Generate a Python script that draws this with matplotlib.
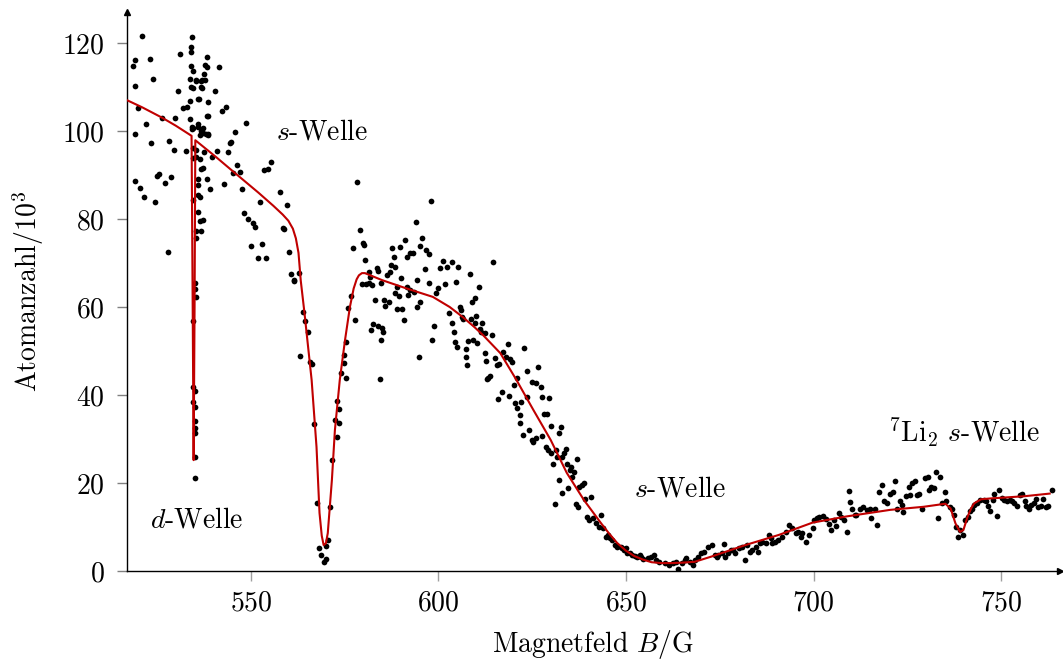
import matplotlib
matplotlib.use("Agg")
import matplotlib.pyplot as plt

# --- fonts: Computer Modern look (bundled with matplotlib) ---
plt.rcParams["font.family"] = "serif"
plt.rcParams["font.serif"] = ["cmr10"]
plt.rcParams["mathtext.fontset"] = "cm"
plt.rcParams["axes.unicode_minus"] = False
plt.rcParams["axes.formatter.use_mathtext"] = True

# --- measured data: magnetic field (G) and atom number (10^3) ---
field_d_region = [518.6, 519.2, 521.0, 523.0, 519.2, 524.0, 520.0, 522.1, 519.2, 523.5,
                  526.4, 528.3, 529.4, 529.9, 532.6, 519.2, 520.5, 521.6, 524.5, 525.0,
                  525.5, 527.2, 528.8, 527.8, 531.2, 531.8, 533.1, 530.7,
                  534.2, 534.0, 534.0, 534.0, 534.5, 533.7, 534.0, 533.7, 533.7, 534.2, 534.2,
                  535.5, 536.6, 537.7, 536.6, 536.0, 538.2, 537.9, 538.2, 537.4, 536.0,
                  536.6, 537.2, 535.8, 538.0, 538.5, 538.5, 538.5, 540.4, 541.5, 542.3,
                  543.3, 545.8, 548.7, 544.4, 543.9, 540.9, 539.6, 537.4, 536.4, 537.2,
                  536.6, 538.2, 539.0, 536.0, 536.0, 535.8, 536.4, 534.7, 535.8, 536.4,
                  537.2, 535.5, 536.6, 535.5, 542.8, 546.3, 547.1, 545.2, 547.6, 548.2,
                  549.3, 550.6, 551.1, 552.5, 550.0, 553.0, 552.0, 554.1, 553.6, 554.6,
                  555.4, 557.9, 559.7, 558.7, 558.9, 560.3, 560.8, 561.6, 562.7,
                  534.7, 534.7, 535.0, 534.7, 535.0, 535.0, 535.0, 535.0, 535.0, 535.0,
                  535.0, 535.0, 535.3, 535.5, 536.9, 536.9, 534.5, 534.5, 538.2, 536.1,
                  534.5, 535.5, 535.3, 534.7, 544.7, 537.2, 536.4, 538.5]
atoms_d_region = [114.7, 116.1, 121.6, 116.3, 110.3, 111.8, 105.2, 101.6, 99.3, 97.2,
                  103.0, 97.8, 95.7, 103.0, 95.5, 88.6, 87.0, 84.9, 83.9, 89.8,
                  90.2, 88.2, 89.6, 72.5, 117.5, 105.2, 105.5, 109.0,
                  121.4, 119.0, 118.0, 114.7, 113.6, 111.8, 110.0, 106.8, 102.7, 100.9, 100.5,
                  111.6, 111.4, 111.6, 110.0, 107.3, 116.8, 115.0, 114.5, 113.0, 100.9,
                  100.0, 100.7, 101.6, 99.3, 99.3, 103.4, 106.6, 109.0, 114.5, 104.5,
                  105.5, 99.8, 101.8, 97.3, 95.2, 95.5, 94.0, 95.2, 93.6, 91.6,
                  91.4, 89.0, 86.8, 89.0, 87.7, 85.5, 85.0, 84.3, 81.6, 79.5,
                  79.8, 77.3, 77.3, 75.7, 88.0, 92.3, 90.7, 90.5, 86.8, 81.4,
                  80.0, 79.1, 78.2, 83.9, 73.9, 74.3, 71.1, 71.1, 91.1, 91.4,
                  93.0, 86.1, 83.2, 77.9, 77.7, 72.5, 67.5, 66.1, 67.7,
                  56.8, 41.8, 40.9, 38.4, 37.3, 34.0, 32.5, 31.4, 25.9, 21.1,
                  65.5, 64.1, 62.3, 111.4, 111.6, 109.7, 109.8, 100.6, 103.3, 107.3,
                  96.1, 95.7, 94.2, 93.8, 97.4, 99.6, 99.1, 99.1]

field_s_region = [561.4, 563.8, 564.3, 565.1, 563.2, 565.7, 566.2, 566.7, 567.5, 568.1,
                  568.6, 569.4, 570.0, 570.0, 570.5, 571.0, 571.6, 572.4, 572.9, 573.5,
                  573.5, 572.9, 574.0, 574.8, 574.8, 575.3, 575.3, 575.9, 576.7, 577.8,
                  579.6, 580.7, 581.5, 582.0,
                  578.3, 579.1, 577.2, 579.9, 580.2, 580.5, 581.5, 583.7, 584.0, 581.8,
                  582.3, 584.7, 586.4, 587.2, 587.4, 588.5, 587.7, 589.8, 591.2, 588.2,
                  591.7, 592.5, 593.3, 593.9, 595.5, 595.0, 596.8, 597.6, 597.9, 596.3,
                  594.4, 597.6, 590.1, 589.0, 591.5, 588.5, 592.3, 593.6, 583.1, 585.5,
                  585.8, 586.9, 589.6, 589.0, 590.4, 592.0, 594.2, 595.2, 590.7, 582.6,
                  584.0, 585.0, 585.3, 584.7, 584.5, 594.7, 598.7, 598.2, 599.3, 599.8,
                  600.3, 602.2, 603.6, 601.1, 605.2, 601.7, 602.8, 604.6, 608.4, 603.6,
                  604.1, 604.4, 604.9, 605.7, 606.0, 606.2, 606.5, 607.3, 607.3, 607.6,
                  607.9, 609.2, 610.3, 608.7, 609.7, 610.0, 609.0, 609.7, 610.8, 614.5]
atoms_s_region = [65.9, 58.9, 56.8, 54.3, 48.9, 47.5, 47.0, 33.4, 15.5, 5.2,
                  3.6, 2.0, 2.7, 5.7, 7.0, 14.5, 25.2, 34.3, 30.5, 33.6,
                  36.8, 38.6, 45.0, 47.3, 49.1, 52.0, 43.9, 59.8, 62.5, 57.0,
                  65.2, 65.2, 65.5, 54.8,
                  88.4, 77.5, 73.4, 74.5, 74.1, 70.7, 68.0, 68.9, 68.2, 66.8,
                  65.0, 65.5, 67.3, 68.0, 69.5, 69.1, 73.4, 73.6, 75.2, 71.4,
                  71.4, 72.3, 72.3, 79.3, 75.7, 73.9, 73.0, 72.0, 84.1, 68.6,
                  66.1, 65.5, 66.6, 64.5, 64.5, 63.2, 63.9, 63.4, 61.6, 61.6,
                  60.2, 61.1, 62.5, 59.5, 59.5, 62.7, 60.0, 61.1, 57.0, 56.1,
                  55.7, 55.2, 54.3, 52.5, 43.6, 48.6, 55.7, 52.5, 63.2, 64.3,
                  68.9, 69.1, 70.2, 70.5, 69.1, 65.2, 58.6, 65.7, 67.5, 56.4,
                  54.3, 52.0, 50.9, 60.0, 59.3, 57.7, 57.3, 50.5, 48.6, 46.8,
                  52.3, 52.5, 51.8, 57.3, 56.4, 58.0, 61.1, 62.0, 64.5, 70.2]

field_decay = [611.1, 611.4, 611.6, 612.4, 612.4, 612.7, 613.2, 613.8, 613.0, 614.3,
               615.1, 615.7, 616.2, 616.0, 616.9, 618.9, 617.3, 618.1, 618.6, 619.2,
               619.7, 620.2, 620.5, 620.8, 621.0, 621.8, 621.6, 622.1, 622.9, 623.5,
               623.5, 622.4, 624.0, 624.8, 625.3, 625.9, 625.0, 625.9, 626.4, 627.2,
               627.5, 628.0, 628.8, 627.5, 628.6, 629.1, 629.9, 631.2, 631.5, 629.4,
               629.9, 632.0, 632.6, 630.4, 632.0, 632.8, 633.4, 633.9, 631.0, 632.8,
               634.2, 634.5, 635.0, 635.3, 635.5, 636.1, 636.6, 637.2, 636.9, 637.4,
               638.2, 638.8, 639.0, 640.7, 639.6, 640.1, 641.2, 642.0, 642.8, 643.3,
               643.9, 644.7, 645.2, 645.8, 646.3, 647.1, 647.6, 648.7, 649.0, 649.5,
               650.1, 650.3, 651.1, 651.7, 652.5, 653.0, 653.6, 654.1, 654.6]
atoms_decay = [55.0, 54.3, 56.4, 54.1, 49.5, 47.7, 43.9, 44.3, 43.6, 53.6,
               48.4, 46.8, 47.0, 39.1, 40.7, 39.8, 49.8, 48.6, 51.6, 48.2,
               47.5, 42.3, 38.2, 37.0, 43.9, 35.5, 33.6, 38.4, 50.7, 45.5,
               39.5, 30.9, 32.0, 29.8, 29.3, 30.2, 43.0, 42.7, 46.4, 41.8,
               39.5, 35.7, 35.7, 30.7, 28.2, 27.5, 26.8, 27.5, 25.9, 39.3,
               33.0, 31.4, 32.7, 24.3, 20.7, 25.9, 26.8, 27.7, 15.2, 17.7,
               24.3, 18.9, 23.0, 23.6, 21.4, 22.5, 15.2, 14.5, 25.5, 19.1,
               19.5, 20.0, 16.4, 16.8, 12.3, 11.6, 12.0, 10.9, 10.0, 12.7,
               9.8, 7.7, 8.2, 7.5, 7.0, 5.9, 5.5, 5.5, 5.2, 4.8,
               5.2, 4.1, 4.1, 3.6, 3.4, 3.2, 3.6, 3.2, 2.7]

field_rise = [655.8, 656.7, 657.4, 658.0, 658.9, 660.3, 661.4, 662.5, 663.4, 663.9,
              664.8, 665.7, 666.1, 667.0, 667.9, 668.3, 669.2, 670.1, 670.8, 671.9,
              672.8, 673.7, 674.2, 674.6, 675.5, 676.2, 676.4, 677.1, 678.0, 678.6,
              679.1, 680.0, 680.9, 681.6, 682.2, 683.1, 683.6, 684.5, 685.2, 685.8,
              686.3, 687.2, 688.1, 688.5, 689.0, 689.8, 690.6, 691.6, 692.5, 693.4,
              694.3, 695.2, 695.9, 696.6, 697.0, 697.9, 698.8, 699.7,
              700.1, 700.8, 701.5, 702.4, 703.3, 704.0, 704.6, 705.3, 706.0, 706.7,
              707.3, 708.2, 708.8, 709.4, 709.7, 710.3, 710.9]
atoms_rise = [2.9, 3.3, 3.6, 2.5, 2.1, 1.8, 1.4, 1.8, 2.1, 0.4,
              1.8, 2.5, 2.9, 2.1, 1.4, 2.5, 3.3, 4.0, 4.4, 5.5,
              5.9, 3.6, 3.3, 3.6, 4.0, 6.1, 3.3, 4.0, 4.8, 4.8,
              4.0, 5.2, 5.5, 2.5, 5.9, 4.4, 4.8, 5.5, 4.4, 6.3,
              6.7, 6.3, 8.2, 7.4, 6.3, 6.7, 7.1, 7.8, 8.9, 10.5,
              9.7, 8.6, 8.9, 7.8, 8.6, 6.7, 8.2, 9.7,
              11.6, 12.0, 12.3, 12.5, 11.9, 10.8, 9.3, 11.6, 10.2, 13.2,
              12.3, 11.7, 8.8, 18.2, 15.7, 14.0, 12.7]

field_li2 = [711.4, 712.3, 713.2, 714.1, 715.0, 715.4, 716.3, 716.8, 717.5, 718.1,
             718.7, 719.5, 720.4, 721.1, 721.7, 722.2, 722.9, 723.5, 723.9, 724.7,
             725.3, 725.7, 726.2, 727.1, 727.5, 728.2, 728.9, 729.8, 730.4, 730.7,
             731.3, 732.0, 732.5, 733.1, 733.6, 734.2, 734.9, 735.4, 736.3, 736.9,
             737.4, 738.0, 738.5, 739.0, 739.7, 740.3, 741.0, 741.7, 742.3, 742.8,
             743.5, 744.4, 745.3, 745.9, 746.5, 747.1, 747.7, 748.1, 748.9, 749.5,
             750.1, 750.8, 751.5, 752.2, 752.8, 753.5, 754.2, 754.9, 755.5, 756.2,
             756.7, 757.3, 758.0, 758.7, 759.3, 759.8, 760.7, 761.1, 761.8, 762.5, 763.4]
atoms_li2 = [12.7, 14.2, 14.6, 13.9, 14.2, 12.0, 14.2, 10.4, 18.0, 19.5,
             15.8, 15.4, 17.6, 18.0, 20.5, 14.0, 15.8, 15.0, 13.5, 17.0,
             19.0, 17.3, 19.9, 20.5, 17.3, 17.6, 14.2, 21.1, 21.4, 18.4,
             19.0, 18.8, 22.6, 12.0, 21.3, 15.4, 17.9, 16.0, 14.5, 14.0,
             12.7, 9.9, 7.7, 9.3, 8.1, 11.6, 12.3, 13.7, 14.2, 15.0,
             15.5, 16.1, 16.1, 16.0, 14.8, 13.7, 16.1, 17.6, 12.5, 18.4,
             16.7, 16.1, 16.0, 16.1, 16.0, 15.4, 14.8, 17.3, 17.6, 16.0,
             14.8, 14.0, 15.0, 15.4, 16.3, 14.6, 14.8, 16.3, 14.6, 14.8, 18.4]

# --- fit curve ---
fit_field = [517.0, 521.0, 526.4, 530.0, 534.2, 534.5, 534.75, 535.0, 535.2, 540.7,
             545.0, 552.0, 556.0, 558.5, 560.0, 561.2, 562.0, 562.7, 563.3, 564.3,
             566.2, 567.5, 568.3, 568.9, 569.4, 570.0, 570.5, 571.6, 572.4, 573.7,
             575.1, 576.4, 577.4, 578.2, 578.8, 579.6, 580.4, 585.0, 591.2, 598.5,
             603.0, 606.5, 609.5, 611.9, 616.5, 620.8, 625.3, 629.9, 634.2, 638.8,
             643.3, 645.5, 647.6, 650.0, 652.2, 654.5, 656.8, 659.5, 662.2, 665.0,
             668.3, 672.8, 681.8, 690.7, 699.7, 708.7, 720.4, 729.3, 733.5, 735.1,
             736.5, 737.8, 739.0, 739.9, 741.0, 742.0, 742.8, 744.6, 747.2, 756.2, 762.9]
fit_atoms = [107.0, 105.4, 103.0, 101.2, 98.9, 60.0, 25.2, 60.0, 97.9, 94.1,
             91.0, 86.0, 83.0, 81.0, 79.6, 77.8, 75.6, 72.3, 66.0, 58.6,
             43.4, 28.2, 13.2, 8.0, 5.9, 6.3, 8.6, 20.7, 32.0, 43.4,
             52.5, 60.0, 64.2, 66.3, 67.2, 67.7, 67.7, 66.1, 64.3, 62.3,
             60.0, 57.7, 55.5, 53.6, 49.5, 43.4, 36.6, 29.8, 22.3, 16.1,
             10.9, 8.5, 6.4, 4.6, 3.4, 2.6, 2.0, 1.8, 1.8, 1.9,
             2.1, 3.3, 5.9, 8.2, 11.0, 12.4, 13.9, 14.6, 15.1, 15.3,
             14.2, 10.8, 8.9, 9.3, 12.3, 14.3, 15.4, 16.3, 16.5, 17.0, 17.6]

field_all = field_d_region + field_s_region + field_decay + field_rise + field_li2
atoms_all = atoms_d_region + atoms_s_region + atoms_decay + atoms_rise + atoms_li2

fig = plt.figure(figsize=(10.63, 6.59), dpi=100)
ax = fig.add_axes([0.1195, 0.1335, 0.8775, 0.848])

ax.scatter(field_all, atoms_all, s=17, color="black", linewidths=0, zorder=2)
ax.plot(fit_field, fit_atoms, color="#c00000", linewidth=1.5, zorder=3)

ax.set_xlim(517, 765.6)
ax.set_ylim(0, 127)
ax.set_xticks([550, 600, 650, 700, 750])
ax.set_yticks([0, 20, 40, 60, 80, 100, 120])

for side in ["top", "right"]:
    ax.spines[side].set_visible(False)
for side in ["left", "bottom"]:
    ax.spines[side].set_linewidth(1.0)
    ax.spines[side].set_color("black")

# arrow tips on the axes
ax.plot(1, 0, marker=">", color="black", markersize=5,
        transform=ax.transAxes, clip_on=False)
ax.plot(0, 1, marker="^", color="black", markersize=5,
        transform=ax.transAxes, clip_on=False)

ax.tick_params(axis="x", direction="out", length=7, width=1, color="#a0a0a0",
               pad=7, labelsize=20)
ax.tick_params(axis="y", direction="out", length=7, width=1, color="#808080",
               pad=9, labelsize=20)

ax.set_xlabel(r"Magnetfeld $B$/G", fontsize=20, labelpad=8)
ax.set_ylabel(r"Atomanzahl/$10^3$", fontsize=20, labelpad=12)

# annotations
ax.text(569, 99.8, r"$s$-Welle", fontsize=20, ha="center", va="center")
ax.text(535.5, 11.6, r"$d$-Welle", fontsize=20, ha="center", va="center")
ax.text(664.3, 18.6, r"$s$-Welle", fontsize=20, ha="center", va="center")
ax.text(740.1, 31.6, r"$^7$Li$_2$ $s$-Welle", fontsize=20, ha="center", va="center")

fig.savefig("out.png", dpi=100)
